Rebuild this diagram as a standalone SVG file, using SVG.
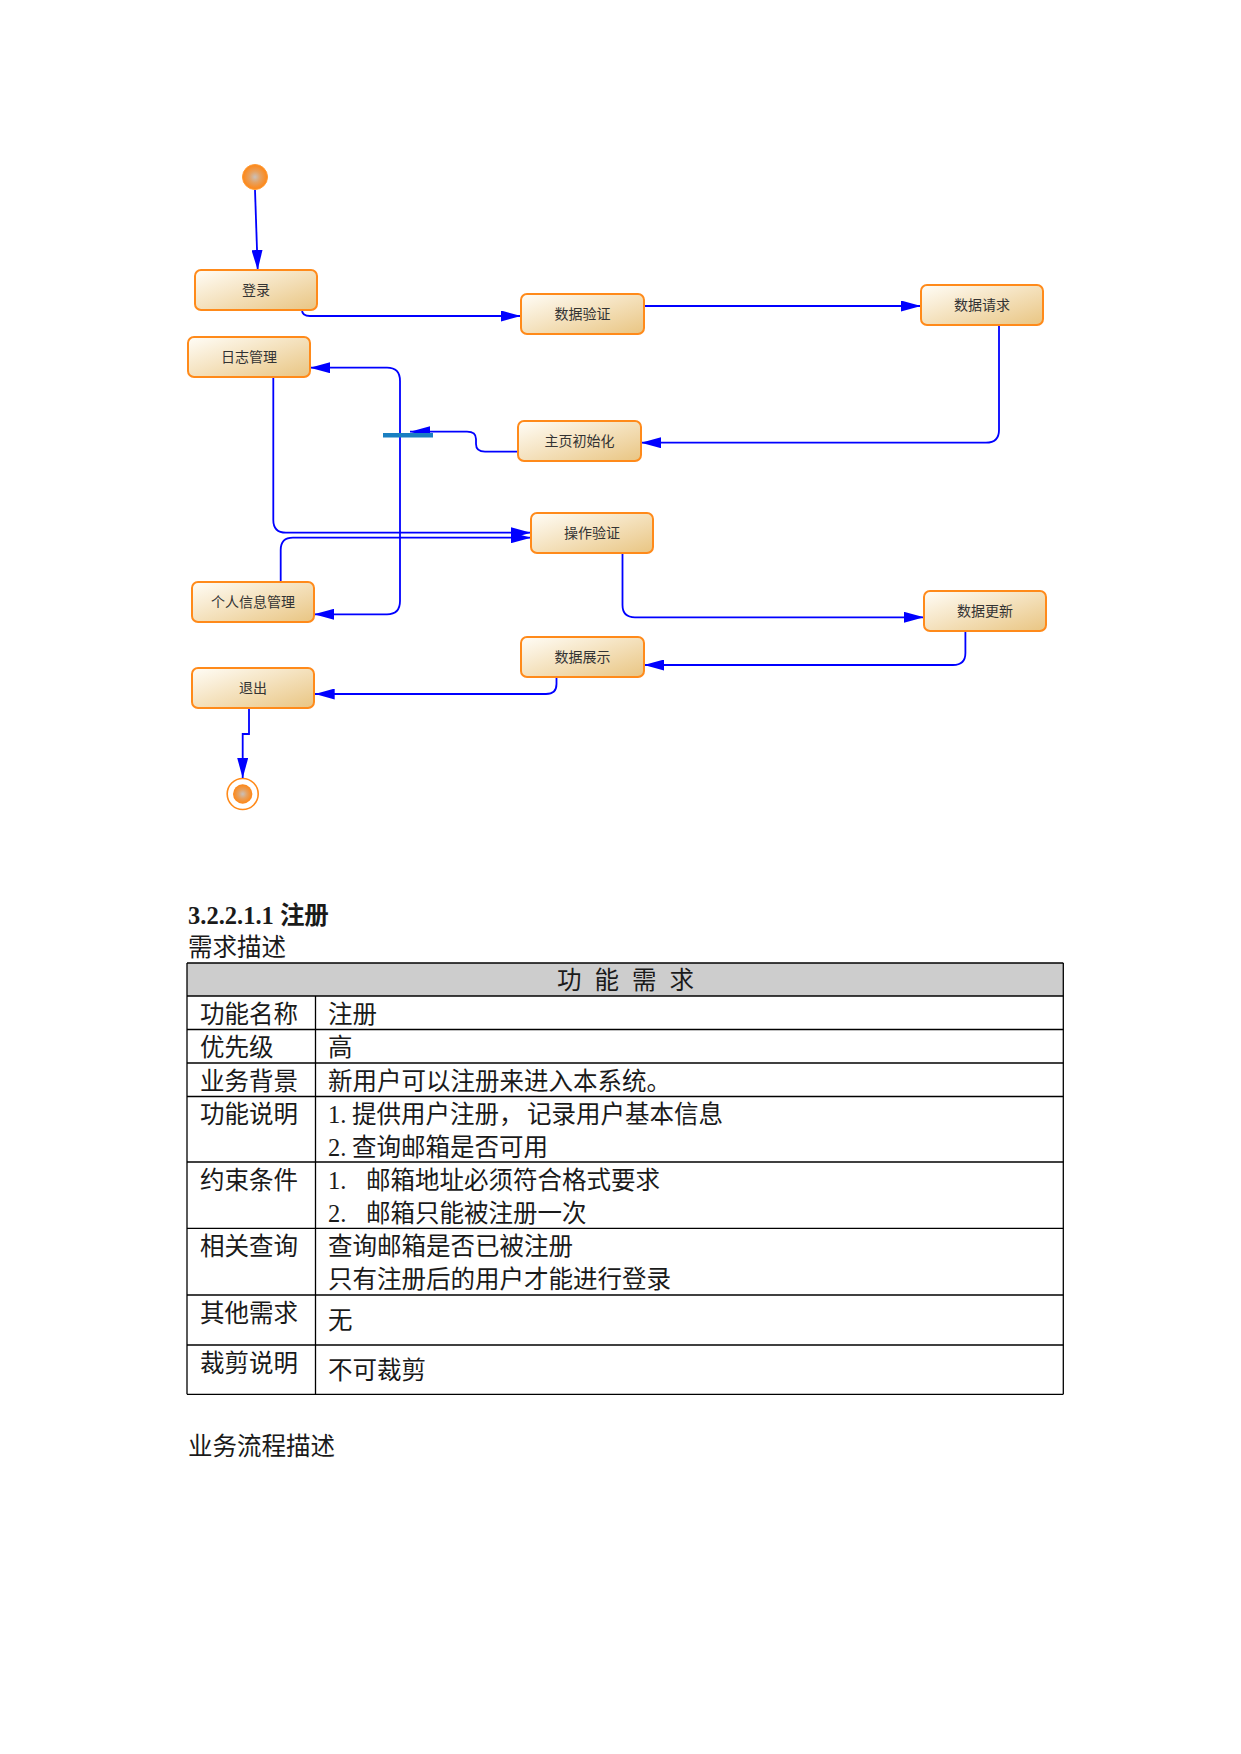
<svg xmlns="http://www.w3.org/2000/svg" width="1241" height="1754" viewBox="0 0 1241 1754">
<style>
.node rect{fill:url(#ng);stroke:#ff8a1a;stroke-width:2}
.node text{font-family:"Noto Sans CJK SC",sans-serif;font-size:14px;fill:#333;text-anchor:middle}
.conn path{fill:none;stroke:#0000ff;stroke-width:1.8;marker-end:url(#ah)}
.t{font-family:"Liberation Serif","Noto Sans CJK SC",serif;font-size:24.5px;fill:#1a1a1a}
.tl line{stroke:#000;stroke-width:1.3}
</style>
<defs>
<linearGradient id="ng" x1="0" y1="0" x2="1" y2="1">
<stop offset="0" stop-color="#fffdf7"/>
<stop offset="1" stop-color="#e9c582"/>
</linearGradient>
<radialGradient id="cg" cx="0.5" cy="0.5" r="0.5">
<stop offset="0" stop-color="#c9c0ba"/>
<stop offset="0.45" stop-color="#e6a160"/>
<stop offset="1" stop-color="#ff8614"/>
</radialGradient>
<marker id="ah" markerUnits="userSpaceOnUse" markerWidth="20" markerHeight="11" refX="20" refY="5.5" orient="auto">
<path d="M0,0 L20,5.5 L0,11 z" fill="#0000ff"/>
</marker>
</defs>
<rect width="1241" height="1754" fill="#fff"/>

<g id="start"><circle cx="255" cy="177" r="12.5" fill="url(#cg)" stroke="#ff9a33" stroke-width="1"/></g>
<g id="end"><circle cx="242.7" cy="794" r="15.5" fill="#fff" stroke="#ff8a1a" stroke-width="1.6"/><circle cx="242.7" cy="794" r="9.7" fill="url(#cg)"/></g>

<g class="conn" id="connectors">
<path d="M255,190 L257.7,270"/>
<path d="M302,310 C302,314 305,316 310,316 L521,316"/>
<path d="M644,306 L921,306"/>
<path d="M999,325 L999,430 Q999,442.7 986,442.7 L641,442.7"/>
<path d="M518,451.7 L485,451.7 C479,451.7 476,449 476,444 L476,439 C476,434 473,431.7 467,431.7 L410,431.7"/>
<path d="M400,435 L400,381 Q400,367.7 387,367.7 L310,367.7"/>
<path d="M400,435 L400,601 Q400,614.3 387,614.3 L314,614.3"/>
<path d="M273.3,377 L273.3,520 Q273.3,532.7 286,532.7 L531,532.7"/>
<path d="M280.7,582 L280.7,550 Q280.7,537.7 293,537.7 L531,537.7"/>
<path d="M622.5,553 L622.5,605 Q622.5,617.3 635,617.3 L924,617.3"/>
<path d="M965.4,631.7 L965.4,653 Q965.4,665 953,665 L644,665"/>
<path d="M556.5,677.3 L556.5,684 Q556.5,694 546,694 L314.7,694"/>
<path d="M249,708.3 L249,734 L242.7,734 L242.7,778"/>
</g>
<g id="syncbar"><rect x="383" y="433" width="50" height="4.5" fill="#1a7fc1"/></g>

<g class="node" id="n-login"><rect x="195" y="270" width="122" height="40" rx="6"/><text x="256" y="295">登录</text></g>
<g class="node" id="n-verify"><rect x="521" y="294" width="123" height="40" rx="6"/><text x="582.5" y="319">数据验证</text></g>
<g class="node" id="n-request"><rect x="921" y="285" width="122" height="40" rx="6"/><text x="982" y="310">数据请求</text></g>
<g class="node" id="n-log"><rect x="188" y="337" width="122" height="40" rx="6"/><text x="249" y="362">日志管理</text></g>
<g class="node" id="n-home"><rect x="518" y="421" width="123" height="40" rx="6"/><text x="579.5" y="446">主页初始化</text></g>
<g class="node" id="n-op"><rect x="531" y="513" width="122" height="40" rx="6"/><text x="592" y="538">操作验证</text></g>
<g class="node" id="n-profile"><rect x="192" y="582" width="122" height="40" rx="6"/><text x="253" y="607">个人信息管理</text></g>
<g class="node" id="n-update"><rect x="924" y="591" width="122" height="40" rx="6"/><text x="985" y="616">数据更新</text></g>
<g class="node" id="n-show"><rect x="521" y="637" width="123" height="40" rx="6"/><text x="582.5" y="662">数据展示</text></g>
<g class="node" id="n-exit"><rect x="192" y="668" width="122" height="40" rx="6"/><text x="253" y="693">退出</text></g>

<text class="t" x="188" y="924" font-weight="bold">3.2.2.1.1 注册</text>
<text class="t" x="188" y="955.5">需求描述</text>

<g id="table">
<rect x="187" y="963" width="876.3" height="33" fill="#cdcdcd"/>
<g class="tl">
<line x1="187" y1="963" x2="1063.3" y2="963"/>
<line x1="187" y1="996" x2="1063.3" y2="996"/>
<line x1="187" y1="1029.5" x2="1063.3" y2="1029.5"/>
<line x1="187" y1="1063" x2="1063.3" y2="1063"/>
<line x1="187" y1="1096.5" x2="1063.3" y2="1096.5"/>
<line x1="187" y1="1162" x2="1063.3" y2="1162"/>
<line x1="187" y1="1228.3" x2="1063.3" y2="1228.3"/>
<line x1="187" y1="1295" x2="1063.3" y2="1295"/>
<line x1="187" y1="1345" x2="1063.3" y2="1345"/>
<line x1="187" y1="1394.3" x2="1063.3" y2="1394.3"/>
<line x1="187" y1="963" x2="187" y2="1394.3"/>
<line x1="1063.3" y1="963" x2="1063.3" y2="1394.3"/>
<line x1="315.5" y1="996" x2="315.5" y2="1394.3"/>
</g>
<text class="t" x="557 594.5 632 669.5" y="988.5">功能需求</text>
<text class="t" x="200" y="1022.5">功能名称</text>
<text class="t" x="328" y="1022.5">注册</text>
<text class="t" x="200" y="1056">优先级</text>
<text class="t" x="328" y="1056">高</text>
<text class="t" x="200" y="1089.5">业务背景</text>
<text class="t" x="328" y="1089.5">新用户可以注册来进入本系统。</text>
<text class="t" x="200" y="1123">功能说明</text>
<text class="t" y="1123"><tspan x="328">1.</tspan><tspan x="352">提供用户注册，</tspan><tspan x="527">记录用户基本信息</tspan></text>
<text class="t" y="1156.4"><tspan x="328">2.</tspan><tspan x="352">查询邮箱是否可用</tspan></text>
<text class="t" x="200" y="1188.5">约束条件</text>
<text class="t" y="1188.5"><tspan x="328">1.</tspan><tspan x="366">邮箱地址必须符合格式要求</tspan></text>
<text class="t" y="1222"><tspan x="328">2.</tspan><tspan x="366">邮箱只能被注册一次</tspan></text>
<text class="t" x="200" y="1255">相关查询</text>
<text class="t" x="328" y="1255">查询邮箱是否已被注册</text>
<text class="t" x="328" y="1288.4">只有注册后的用户才能进行登录</text>
<text class="t" x="200" y="1321.5">其他需求</text>
<text class="t" x="328" y="1329">无</text>
<text class="t" x="200" y="1371.5">裁剪说明</text>
<text class="t" x="328" y="1379">不可裁剪</text>
</g>
<text class="t" x="188" y="1454.5">业务流程描述</text>
</svg>
